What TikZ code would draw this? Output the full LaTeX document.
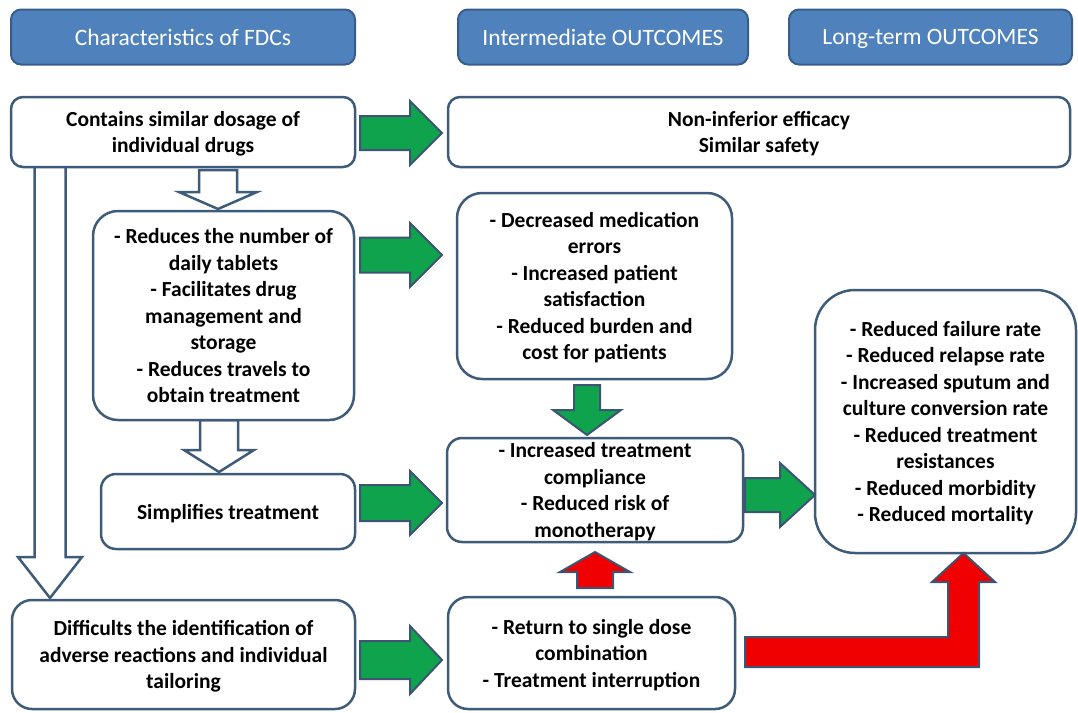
\documentclass[tikz,border=0pt]{standalone}
\usepackage{fontspec}
\setmainfont{Carlito}
\definecolor{hdrfill}{RGB}{79,129,189}
\definecolor{hdrline}{RGB}{56,93,138}
\definecolor{boxline}{RGB}{62,92,122}
\definecolor{arrline}{RGB}{60,85,115}
\definecolor{arrgreen}{RGB}{16,163,78}
\definecolor{arrred}{RGB}{240,0,0}
\newcommand{\HArrow}[7]{\draw[#1] ({#2},{#4-#5}) -- ({#3-#7},{#4-#5}) -- ({#3-#7},{#4-#6}) -- ({#3},{#4}) -- ({#3-#7},{#4+#6}) -- ({#3-#7},{#4+#5}) -- ({#2},{#4+#5}) -- cycle;}
\newcommand{\VArrow}[7]{\draw[#1] ({#2-#5},{#3}) -- ({#2-#5},{#4-(#7)}) -- ({#2-#6},{#4-(#7)}) -- ({#2},{#4}) -- ({#2+#6},{#4-(#7)}) -- ({#2+#5},{#4-(#7)}) -- ({#2+#5},{#3}) -- cycle;}
\tikzset{
  hdr/.style={draw=hdrline, fill=hdrfill, line width=2pt, rounded corners=10pt, text=white, font=\fontsize{23.5}{28}\selectfont, inner sep=0pt, text depth=0pt},
  box/.style={draw=boxline, fill=white, line width=2.5pt, align=center, font=\bfseries\fontsize{21.5}{26.5}\selectfont, inner sep=0pt, text depth=0pt},
  garrow/.style={draw=arrline, fill=arrgreen, line width=2pt, line join=miter},
  rarrow/.style={draw=arrline, fill=arrred, line width=2pt, line join=miter},
  warrow/.style={draw=boxline, fill=white, line width=2.5pt, line join=miter},
}
\begin{document}
\begin{tikzpicture}[x=1pt,y=-1pt]
\useasboundingbox (0,0) rectangle (1078,712);
% headers
\node[hdr, minimum width=344pt, minimum height=55pt] (h1) at (183,37) {Characteristics of FDCs};
\node[hdr, minimum width=290pt, minimum height=55pt] (h2) at (603,37) {Intermediate OUTCOMES};
\node[hdr, minimum width=283pt, minimum height=55pt] (h3) at (930.5,37) {Long-term OUTCOMES};
% left long white arrow (under box 1)
\VArrow{warrow}{50}{160}{598}{15.5}{32}{41}
% white small arrows
\VArrow{warrow}{218}{170}{209}{19}{39}{17}
\VArrow{warrow}{219}{420}{472}{19}{35}{22}
% boxes
\node[box, minimum width=344pt, minimum height=70pt, rounded corners=12pt] (b1) at (183,132) {Contains similar dosage of\\individual drugs};
\node[box, minimum width=622pt, minimum height=70pt, rounded corners=12pt] (ni) at (759,132) {Non-inferior efficacy\\Similar safety};
\node[box, minimum width=261pt, minimum height=209pt, rounded corners=25pt] (b2) at (223.5,315.5) {- Reduces the number of\\daily tablets\\- Facilitates drug\\management and\\storage\\- Reduces travels to\\obtain treatment};
\node[box, minimum width=275pt, minimum height=186pt, rounded corners=25pt] (dec) at (594.5,286) {- Decreased medication\\errors\\- Increased patient\\satisfaction\\- Reduced burden and\\cost for patients};
\node[box, minimum width=254pt, minimum height=75pt, rounded corners=15pt] (b3) at (228,511.5) {Simplifies treatment};
\node[box, minimum width=296pt, minimum height=104pt, rounded corners=15pt] (inc) at (595,490) {- Increased treatment\\compliance\\- Reduced risk of\\monotherapy};
\node[box, minimum width=261pt, minimum height=263pt, rounded corners=40pt] (lt) at (945.5,421.5) {- Reduced failure rate\\- Reduced relapse rate\\- Increased sputum and\\culture conversion rate\\- Reduced treatment\\resistances\\- Reduced morbidity\\- Reduced mortality};
\node[box, minimum width=343pt, minimum height=109pt, rounded corners=20pt] (b4) at (183.5,654.5) {Difficults the identification of\\adverse reactions and individual\\tailoring};
\node[box, minimum width=287pt, minimum height=112pt, rounded corners=20pt] (ret) at (591.5,653) {- Return to single dose\\combination\\- Treatment interruption};
% green arrows
\HArrow{garrow}{360}{442}{133}{17}{32}{32}
\HArrow{garrow}{360}{442}{255}{17.5}{32}{32}
\HArrow{garrow}{360}{442}{503}{18}{32}{32}
\HArrow{garrow}{360}{442}{660}{19}{34}{32}
\HArrow{garrow}{745}{815}{495}{17}{32}{35}
\VArrow{garrow}{587}{385}{435}{13}{34}{25}
% red arrows
\VArrow{rarrow}{595}{588}{552}{18}{35}{-20}
\draw[rarrow] (745,637) -- (948,637) -- (948,582) -- (932,582) -- (963.5,553) -- (995,582) -- (979,582) -- (979,667) -- (745,667) -- cycle;
\end{tikzpicture}
\end{document}
